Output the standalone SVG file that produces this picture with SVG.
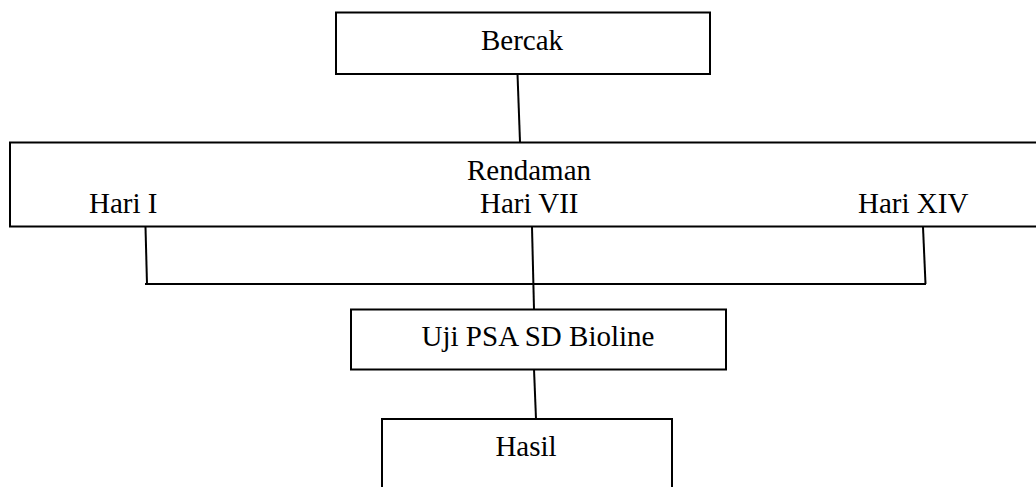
<svg xmlns="http://www.w3.org/2000/svg" width="1036" height="487" viewBox="0 0 1036 487">
<style>
.box{fill:#fff;stroke:#000;stroke-width:2}
.t{font-family:"Liberation Serif","Times New Roman",serif;font-size:29px;fill:#000}
.c{text-anchor:middle}
.ln{fill:none;stroke:#000;stroke-width:2}
</style>
<rect width="1036" height="487" fill="#fff"/>
<g id="connectors">
<line class="ln" x1="517.5" y1="74" x2="520" y2="142"/>
<line class="ln" x1="145.5" y1="227" x2="147" y2="284"/>
<line class="ln" x1="923" y1="227" x2="925.5" y2="284"/>
<line class="ln" x1="145" y1="284" x2="926" y2="284"/>
<line class="ln" x1="532" y1="227" x2="534" y2="309"/>
<line class="ln" x1="534" y1="369" x2="536" y2="419"/>
</g>
<g id="bercak">
<rect class="box" x="336" y="12.5" width="374" height="61.5"/>
<text class="t c" x="522" y="49.5">Bercak</text>
</g>
<g id="rendaman">
<rect class="box" x="10" y="142.5" width="1040" height="84"/>
<text class="t c" x="529" y="180">Rendaman</text>
<text class="t" x="89" y="213">Hari I</text>
<text class="t" x="480" y="213">Hari VII</text>
<text class="t" x="858" y="213">Hari XIV</text>
</g>
<g id="uji">
<rect class="box" x="351" y="309.5" width="375" height="60"/>
<text class="t c" x="538" y="346">Uji PSA SD Bioline</text>
</g>
<g id="hasil">
<rect class="box" x="382" y="419" width="290" height="80"/>
<text class="t c" x="526" y="456">Hasil</text>
</g>
</svg>
